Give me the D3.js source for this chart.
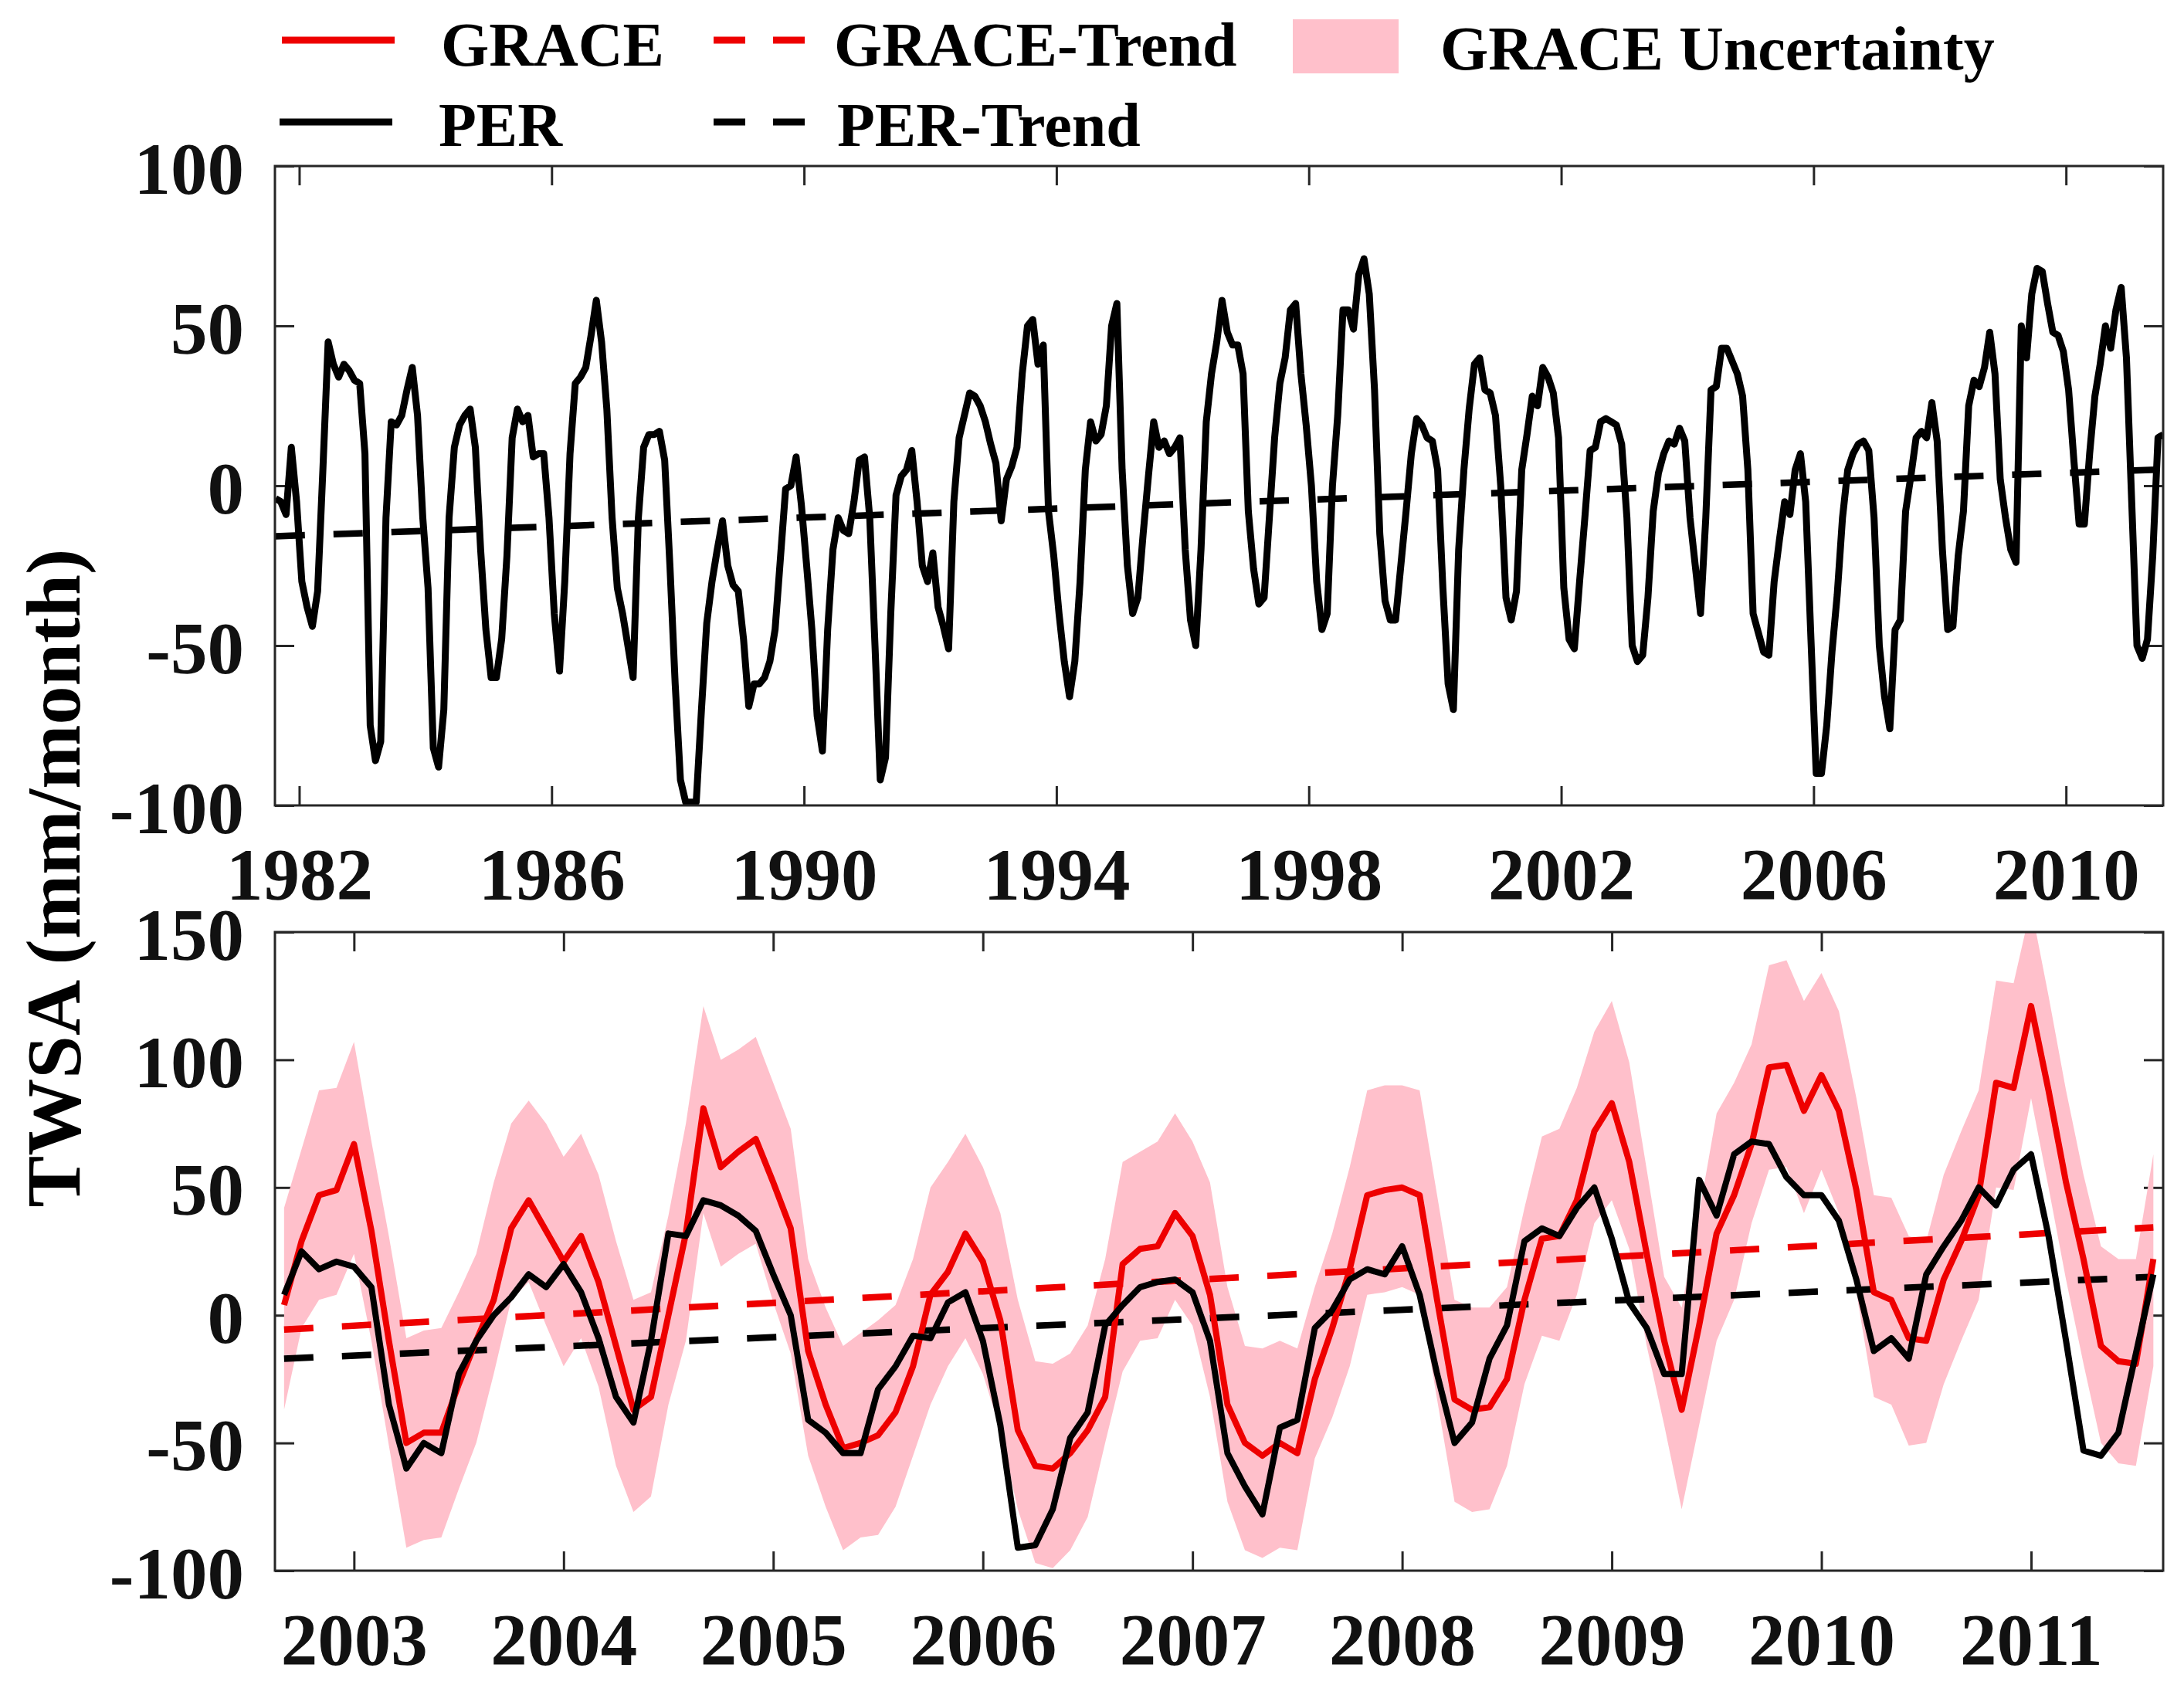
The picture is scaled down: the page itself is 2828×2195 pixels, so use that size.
<!DOCTYPE html>
<html>
<head>
<meta charset="utf-8">
<script src="https://cdn.jsdelivr.net/npm/d3@7"></script>
<style>
  body { margin: 0; background: #fff; }
  svg { display: block; }
</style>
</head>
<body>
<svg id="chart" width="2828" height="2195"></svg>
<script>
// PER monthly TWSA, Aug 1981 - Jul 2011 (one row per 12 months)
const perLong = [
  -4, -5, -9, 12, -5, -30, -38, -44, -33, 5, 45, 38,
  34, 38, 36, 33, 32, 10, -75, -86, -80, -10, 20, 19,
  22, 30, 37, 22, -10, -32, -82, -88, -70, -10, 12, 19,
  22, 24, 12, -20, -45, -60, -60, -48, -22, 15, 24, 20,
  22, 9, 10, 10, -10, -40, -58, -30, 10, 32, 34, 37,
  47, 58, 45, 24, -10, -32, -40, -50, -60, -10, 12, 16,
  16, 17, 8, -25, -62, -92, -99, -99, -99, -70, -43, -30,
  -20, -11, -25, -31, -33, -48, -69, -62, -62, -60, -55, -45,
  -23, -1, 0, 9, -6, -25, -45, -72, -83, -45, -20, -10,
  -14, -15, -5, 8, 9, -10, -50, -92, -85, -40, -3, 3,
  5, 11, -5, -25, -30, -21, -38, -44, -51, -5, 15, 22,
  29, 28, 25, 20, 13, 7, -11, 2, 6, 12, 35, 50,
  52, 38, 44, -8, -22, -40, -55, -66, -55, -30, 5, 20,
  14, 16, 25, 50, 57, 5, -25, -40, -35, -15, 3, 20,
  12, 14, 10, 12, 15, -20, -42, -50, -20, 20, 35, 45,
  58, 48, 44, 44, 35, -8, -26, -37, -35, -10, 15, 32,
  40, 55, 57, 35, 19, 0, -30, -45, -40, 0, 22, 55,
  55, 49, 66, 71, 60, 30, -15, -36, -42, -42, -25, -8,
  10, 21, 19, 15, 14, 5, -32, -62, -70, -20, 5, 24,
  38, 40, 30, 29, 22, 0, -35, -42, -33, 5, 16, 28,
  25, 37, 34, 29, 15, -32, -48, -51, -30, -10, 11, 12,
  20, 21, 20, 19, 13, -10, -50, -55, -53, -35, -8, 4,
  10, 14, 13, 18, 14, -10, -25, -40, -10, 30, 31, 43,
  43, 39, 35, 28, 5, -40, -46, -52, -53, -30, -17, -5,
  -9, 5, 10, -5, -48, -90, -90, -75, -52, -34, -10, 5,
  10, 13, 14, 11, -10, -50, -66, -76, -45, -42, -8, 3,
  15, 17, 15, 26, 14, -20, -45, -44, -22, -8, 25, 33,
  31, 37, 48, 35, 2, -10, -20, -24, 50, 40, 60, 68,
  67, 57, 48, 47, 42, 30, 8, -12, -12, 10, 28, 38,
  50, 43, 55, 62, 40, -5, -50, -54, -48, -22, 15, 16
]

// GRACE period, Sep 2002 - Aug 2011
const grace = [
  4, 29, 47, 49, 67, 33, -10, -50, -46, -46, -27, -10,
  6, 34, 45, 33, 21, 31, 13, -12, -37, -32, 0, 32,
  81, 58, 64, 69, 52, 34, -14, -35, -52, -50, -47, -38,
  -20, 8, 17, 32, 21, -2, -45, -59, -60, -54, -45, -32,
  20, 26, 27, 40, 31, 8, -35, -50, -55, -50, -54, -25,
  -5, 18, 47, 49, 50, 47, 6, -33, -37, -36, -25, 6,
  30, 31, 45, 72, 83, 60, 24, -10, -37, -4, 32, 47,
  67, 97, 98, 80, 94, 80, 49, 9, 6, -9, -10, 14,
  29, 47, 91, 89, 121, 88, 52, 22, -12, -18, -19, 22
]

const perShort = [
  8, 25, 18, 21, 19, 11, -35, -60, -50, -54, -23, -10,
  0, 7, 16, 11, 20, 9, -9, -32, -42, -10, 32, 31,
  45, 43, 39, 33, 16, 0, -41, -46, -54, -54, -29, -20,
  -8, -9, 5, 9, -10, -43, -91, -90, -76, -48, -38, -4,
  4, 11, 13, 14, 9, -10, -54, -67, -78, -44, -41, -5,
  2, 14, 18, 16, 27, 8, -23, -50, -42, -17, -4, 29,
  34, 31, 42, 50, 30, 5, -5, -23, -23, 53, 39, 63,
  68, 67, 54, 47, 47, 37, 14, -14, -9, -17, 16, 27,
  37, 50, 43, 57, 63, 31, -10, -53, -55, -46, -15, 16
]

const graceUpper = [
  42, 65, 88, 89, 107, 68, 31, -9, -6, -5, 9, 24,
  52, 75, 84, 75, 62, 71, 55, 29, 6, 9, 39, 75,
  121, 100, 104, 109, 91, 73, 22, 3, -12, -7, -2, 4,
  22, 50, 60, 71, 58, 40, 6, -18, -19, -15, -4, 22,
  60, 64, 68, 79, 68, 52, 11, -12, -13, -10, -13, 11,
  32, 58, 88, 90, 90, 88, 47, 6, 3, 3, 11, 42,
  70, 73, 89, 111, 123, 99, 57, 15, 3, 40, 79, 91,
  106, 137, 139, 123, 134, 119, 85, 47, 46, 31, 29, 55,
  72, 88, 131, 130, 160, 125, 88, 55, 27, 22, 22, 63
]

const graceLower = [
  -37, -5, 6, 8, 24, -10, -51, -91, -88, -87, -68, -50,
  -23, 6, 13, -4, -20, -9, -28, -59, -77, -71, -35, -10,
  40, 19, 24, 28, 5, -15, -55, -75, -92, -87, -86, -75,
  -55, -35, -20, -9, -23, -45, -76, -97, -99, -92, -79, -50,
  -22, -10, -9, 6, -4, -32, -73, -92, -95, -91, -92, -56,
  -40, -20, 8, 9, 11, 8, -33, -73, -77, -76, -59, -27,
  -8, -10, 8, 36, 45, 26, -12, -43, -76, -43, -10, 6,
  36, 57, 58, 40, 57, 40, 9, -32, -35, -51, -50, -27,
  -10, 6, 50, 49, 85, 50, 14, -19, -50, -58, -59, -20
]

// trend end values (first and last month)
const perLongTrend = [-15.8, 5.1]
const graceTrend = [-5.6, 34.4]
const perShortTrend = [-17.0, 15.0]

const longYearTicks = [1982, 1986, 1990, 1994, 1998, 2002, 2006, 2010]
const shortYearTicks = [2003, 2004, 2005, 2006, 2007, 2008, 2009, 2010, 2011]
const longValueTicks = [-100, -50, 0, 50, 100]
const shortValueTicks = [-100, -50, 0, 50, 100, 150]

// first month of each record, as decimal year
const longStart = 1981 + 7.5 / 12
const shortStart = 2002 + 8 / 12

const FONT = "'Liberation Serif', 'Times New Roman', serif"
const RED = '#ee0000'
const PINK = '#ffc0cb'
const AXIS = '#262626'
const DASH = '38,37'

const svg = d3.select('#chart')
svg.append('rect').attr('width', 2828).attr('height', 2195).attr('fill', '#fff')

const plotW = 2445

// builds one panel frame with inward ticks on all four sides
function panel(top, height, x, y, xTicks, yTicks, id) {
  const g = svg.append('g').attr('transform', `translate(356,${top})`)

  g.append('clipPath').attr('id', id).append('rect').attr('width', plotW).attr('height', height)

  const fmt = (d) => String(d)

  const bottom = g.append('g').attr('transform', `translate(0,${height})`)
    .call(d3.axisBottom(x).tickValues(xTicks).tickSizeInner(-25).tickSizeOuter(0).tickFormat(fmt))
  g.append('g').call(d3.axisTop(x).tickValues(xTicks).tickSizeInner(-25).tickSizeOuter(0).tickFormat(''))
  const left = g.append('g')
    .call(d3.axisLeft(y).tickValues(yTicks).tickSizeInner(-25).tickSizeOuter(0).tickFormat(fmt))
  g.append('g').attr('transform', `translate(${plotW},0)`)
    .call(d3.axisRight(y).tickValues(yTicks).tickSizeInner(-25).tickSizeOuter(0).tickFormat(''))

  g.selectAll('.domain').remove()
  g.selectAll('.tick line').attr('stroke', AXIS).attr('stroke-width', 3)

  bottom.selectAll('text')
    .attr('y', 122).attr('dy', 0)
    .attr('font-family', FONT).attr('font-weight', 700).attr('font-size', 95).attr('fill', '#111')
  left.selectAll('text')
    .attr('x', -40).attr('dy', '0.37em')
    .attr('font-family', FONT).attr('font-weight', 700).attr('font-size', 95).attr('fill', '#111')

  const plot = g.append('g').attr('clip-path', `url(#${id})`)

  g.append('rect')
    .attr('width', plotW).attr('height', height)
    .attr('fill', 'none').attr('stroke', AXIS).attr('stroke-width', 3)

  return plot
}

// ****************** long PER record ***************************

const xLong = d3.scaleLinear().domain([1981.615, 2011.54]).range([0, plotW])
const yLong = d3.scaleLinear().domain([-100, 100]).range([828, 0])
const longDates = perLong.map((d, i) => longStart + i / 12)

const topPlot = panel(215, 828, xLong, yLong, longYearTicks, longValueTicks, 'clip-top')

const lineLong = d3.line().x((d, i) => xLong(longDates[i])).y((d) => yLong(d))

topPlot.append('path')
  .datum([[longDates[0], perLongTrend[0]], [longDates[longDates.length - 1], perLongTrend[1]]])
  .attr('d', d3.line().x((d) => xLong(d[0])).y((d) => yLong(d[1])))
  .attr('fill', 'none').attr('stroke', '#000').attr('stroke-width', 8.5)
  .attr('stroke-dasharray', DASH)

topPlot.append('path')
  .datum(perLong)
  .attr('d', lineLong)
  .attr('fill', 'none').attr('stroke', '#000').attr('stroke-width', 9)
  .attr('stroke-linejoin', 'round')

// ****************** GRACE period ***************************

const xShort = d3.scaleLinear().domain([2002.623, 2011.63]).range([0, plotW])
const yShort = d3.scaleLinear().domain([-100, 150]).range([827, 0])
const shortDates = grace.map((d, i) => shortStart + i / 12)
const lastShort = shortDates[shortDates.length - 1]

const bottomPlot = panel(1207, 827, xShort, yShort, shortYearTicks, shortValueTicks, 'clip-bottom')

// uncertainty band
bottomPlot.append('path')
  .datum(graceUpper.map((u, i) => [shortDates[i], graceLower[i], u]))
  .attr('d', d3.area().x((d) => xShort(d[0])).y0((d) => yShort(d[1])).y1((d) => yShort(d[2])))
  .attr('fill', PINK)

const trendLine = d3.line().x((d) => xShort(d[0])).y((d) => yShort(d[1]))

bottomPlot.append('path')
  .datum([[shortDates[0], graceTrend[0]], [lastShort, graceTrend[1]]])
  .attr('d', trendLine)
  .attr('fill', 'none').attr('stroke', RED).attr('stroke-width', 8.5)
  .attr('stroke-dasharray', DASH)

bottomPlot.append('path')
  .datum([[shortDates[0], perShortTrend[0]], [lastShort, perShortTrend[1]]])
  .attr('d', trendLine)
  .attr('fill', 'none').attr('stroke', '#000').attr('stroke-width', 8.5)
  .attr('stroke-dasharray', DASH)

const lineShort = d3.line().x((d, i) => xShort(shortDates[i])).y((d) => yShort(d))

bottomPlot.append('path')
  .datum(grace)
  .attr('d', lineShort)
  .attr('fill', 'none').attr('stroke', RED).attr('stroke-width', 8)
  .attr('stroke-linejoin', 'round')

bottomPlot.append('path')
  .datum(perShort)
  .attr('d', lineShort)
  .attr('fill', 'none').attr('stroke', '#000').attr('stroke-width', 8)
  .attr('stroke-linejoin', 'round')

// ****************** y label ***************************

svg.append('text')
  .attr('transform', 'translate(103,1137) rotate(-90)')
  .attr('text-anchor', 'middle')
  .attr('font-family', FONT).attr('font-weight', 700).attr('font-size', 100)
  .text('TWSA (mm/month)')

// ****************** legend ***************************

const legendItems = [
  { name: 'GRACE', color: RED, dash: null, x: 365, tx: 571, y: 52, ty: 85 },
  { name: 'PER', color: '#000', dash: null, x: 362, tx: 568, y: 158, ty: 189 },
  { name: 'GRACE-Trend', color: RED, dash: '41,36', x: 924, tx: 1080, y: 52, ty: 85 },
  { name: 'PER-Trend', color: '#000', dash: '41,36', x: 924, tx: 1084, y: 158, ty: 189 }
]

const legend = svg.append('g')

legendItems.forEach((d) => {
  legend.append('line')
    .attr('x1', d.x).attr('x2', d.x + 146).attr('y1', d.y).attr('y2', d.y)
    .attr('stroke', d.color).attr('stroke-width', 9)
    .attr('stroke-dasharray', d.dash)
  legend.append('text')
    .attr('x', d.tx).attr('y', d.ty)
    .attr('font-family', FONT).attr('font-weight', 700).attr('font-size', 80)
    .text(d.name)
})

legend.append('rect')
  .attr('x', 1674).attr('y', 25).attr('width', 137).attr('height', 70)
  .attr('fill', PINK)
legend.append('text')
  .attr('x', 1865).attr('y', 90)
  .attr('font-family', FONT).attr('font-weight', 700).attr('font-size', 80)
  .text('GRACE Uncertainty')
</script>
</body>
</html>
